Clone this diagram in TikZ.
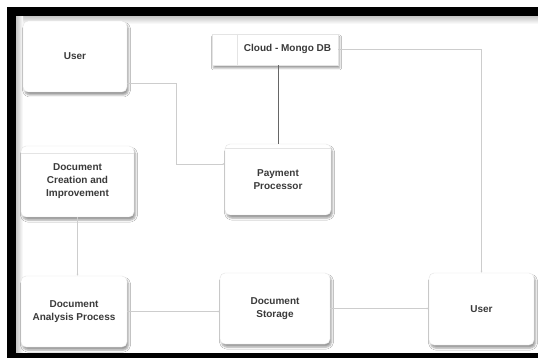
\documentclass[tikz,border=0pt]{standalone}
\usepackage{fontspec}
\setmainfont{Liberation Sans}
\usetikzlibrary{shadows.blur,arrows.meta,calc}
\definecolor{txt}{HTML}{3A3A3A}
\definecolor{edgec}{HTML}{E4E4E4}
\definecolor{connc}{HTML}{CDCDCD}
\definecolor{darkc}{HTML}{666666}
\tikzset{
  box/.style={draw=edgec, line width=0.4pt, fill=white, rounded corners=5pt,
    minimum width=105pt, minimum height=71pt, align=center, text=txt,
    font=\bfseries\fontsize{10}{13}\selectfont,
    blur shadow={shadow xshift=1.5pt, shadow yshift=-3pt, shadow blur radius=2pt, shadow opacity=40}},
  lbl/.style={text=txt, font=\bfseries\fontsize{10}{13}\selectfont, inner sep=0pt},
  conn/.style={draw=connc, line width=0.5pt, -{Latex[length=2pt,width=2pt]}},
  darkconn/.style={draw=darkc, line width=0.8pt},
  hdr/.style={draw=edgec, line width=0.4pt}
}
\begin{document}
\begin{tikzpicture}[x=1pt,y=-1pt]
\useasboundingbox (0,0) rectangle (538,358);
\fill[white] (0,0) rectangle (538,358);
% frame
\shade[top color=gray!45, bottom color=white] (16,16) rectangle (538,24);
\shade[left color=gray!45, right color=white] (16,16) rectangle (23,353);
\fill[black] (7,7) rectangle (538,16);
\fill[black] (7,7) rectangle (16,358);
\fill[black] (7,353) rectangle (538,358);

% nodes
\node[box, minimum width=104pt] (user1) at (75,56.5) {User};
\node[box, rounded corners=0pt, minimum width=126pt, minimum height=31pt] (cloud) at (275,49.5) {};
\draw[hdr] ([xshift=25pt]cloud.north west) -- ([xshift=25pt]cloud.south west);
\node[lbl] (cloudlbl) at (287.5,48.5) {Cloud - Mongo DB};

\node[box, minimum width=106pt] (pay) at (278,179.5) {Payment\\Processor};
\draw[hdr] ([yshift=-4pt]pay.north west) -- ([yshift=-4pt]pay.north east);

\node[box, minimum width=113pt] (create) at (77.5,181.5) {Document\\Creation and\\Improvement};
\draw[hdr] ([yshift=-7pt]create.north west) -- ([yshift=-7pt]create.north east);

\node[box, minimum width=106pt] (analysis) at (74,311.5) {Document\\Analysis Process};
\node[box, minimum width=110pt] (storage) at (275,308.5) {Document\\Storage};
\node[box, minimum width=105pt, minimum height=72pt] (user2) at (481.5,309) {User};

% connectors
\draw[conn] ([yshift=-26.5pt]user1.east) -- ++(49,0) |- ([yshift=15.5pt]pay.west);
\draw[darkconn] (pay.north |- cloud.south) -- (pay.north);
\draw[conn] (cloud.east) -| (user2.north);
\draw[conn] (create.south) -- (create.south |- analysis.north);
\draw[conn] (analysis.east) -- (analysis.east -| storage.west);
\draw[conn] (storage.east) -- (storage.east -| user2.west);
\end{tikzpicture}
\end{document}
